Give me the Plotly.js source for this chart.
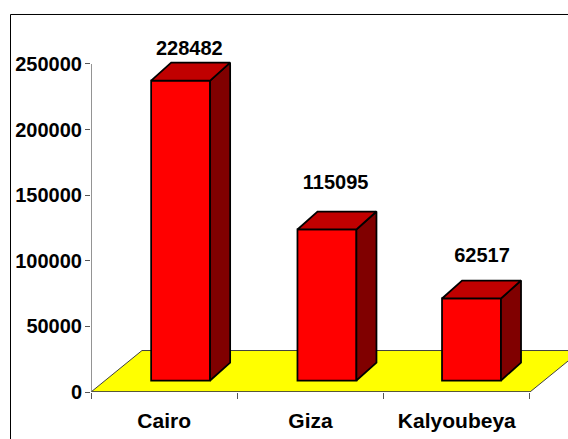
<!DOCTYPE html>
<html>
<head>
<meta charset="utf-8">
<script src="https://cdn.plot.ly/plotly-3.0.1.min.js"></script>
<style>html,body{margin:0;padding:0;background:#fff;overflow:hidden}</style>
</head>
<body>
<div id="chart" style="width:568px;height:439px"></div>
<script>
var categories = ['Cairo', 'Giza', 'Kalyoubeya'];
var values = [228482, 115095, 62517];
var yTicks = [0, 50000, 100000, 150000, 200000, 250000];
var labelLift = [24500, 36000, 33000];
var barNudge = [0, 0, -0.012];

var xPos = categories.map(function (c, i) { return i; });
var barLeft = -0.089, barWidth = 0.403;
var depthX = 0.137, depthY = 13700, liftY = 8750;
var floorDX = 0.3485, floorDY = 31600;
var yTop = 288040;
var fontFamily = 'Liberation Sans, Arial, sans-serif';

var traces = [{
  type: 'bar', x: xPos.map(function (p, i) { return p + barNudge[i]; }), y: values, base: liftY, width: barWidth, offset: barLeft,
  marker: {color: '#ff0000', line: {color: '#000', width: 1.75}},
  cliponaxis: false, hoverinfo: 'skip', showlegend: false
}];

function face(xs, ys, colour) {
  traces.push({
    type: 'scatter', mode: 'lines', x: xs, y: ys, fill: 'toself', fillcolor: colour,
    line: {color: '#000', width: 1.75, shape: 'linear'}, cliponaxis: false,
    hoverinfo: 'skip', showlegend: false
  });
}
values.forEach(function (v, i) {
  var l = i + barNudge[i] + barLeft, r = l + barWidth, t = v + liftY;
  face([r, r + depthX, r + depthX, r, r], [liftY, liftY + depthY, t + depthY, t, liftY], '#800000');
  face([l, l + depthX, r + depthX, r, l], [t, t + depthY, t + depthY, t, t], '#c00000');
});
traces.push({
  type: 'scatter', mode: 'text',
  x: xPos.map(function (p) { return p + 0.172; }),
  y: values.map(function (v, i) { return v + labelLift[i]; }),
  text: values.map(String), textposition: 'top center',
  textfont: {family: fontFamily, size: 20, color: '#000', weight: 'bold'},
  cliponaxis: false, hoverinfo: 'skip', showlegend: false
});

var layout = {
  width: 568, height: 439, autosize: false,
  margin: {l: 91, r: 0, t: 14, b: 46.5, pad: 0},
  paper_bgcolor: '#fff', plot_bgcolor: 'rgba(0,0,0,0)', showlegend: false,
  xaxis: {
    type: 'linear', range: [-0.5, 2.76], showgrid: false, zeroline: false, showline: false,
    tickmode: 'array', tickvals: xPos, ticktext: categories, ticks: '',
    ticklabelstandoff: 14,
    tickfont: {family: fontFamily, size: 21, color: '#000', weight: 'bold'},
    minor: {tickmode: 'array', tickvals: [-0.5, 0.5, 1.5, 2.5], ticks: 'outside', ticklen: 6, tickwidth: 1, tickcolor: '#555', showgrid: false}
  },
  yaxis: {
    range: [0, yTop], showgrid: false, zeroline: false, showline: false,
    tickmode: 'array', tickvals: yTicks, ticktext: yTicks.map(String),
    ticks: 'outside', ticklen: 5, tickwidth: 1, tickcolor: '#555',
    ticklabelstandoff: -1,
    tickfont: {family: fontFamily, size: 20, color: '#000', weight: 'bold'}
  },
  shapes: [
    {type: 'path', xref: 'x', yref: 'y', layer: 'below',
     path: 'M -0.5 0 L ' + (-0.5 + floorDX) + ' ' + floorDY + ' L ' + (2.5 + floorDX) + ' ' + floorDY + ' L 2.5 0 Z',
     fillcolor: '#ffff00', line: {color: '#404040', width: 1}},
    {type: 'line', xref: 'x', yref: 'y', x0: -0.5, x1: 2.5, y0: 0, y1: 0, line: {color: '#404040', width: 1.5}},
    {type: 'line', xref: 'x', yref: 'y', x0: -0.5, x1: -0.5, y0: 0, y1: 250000, line: {color: '#707070', width: 1.5}},
    {type: 'line', xref: 'paper', yref: 'paper', x0: -0.16876, x1: -0.16876, y0: -0.13, y1: 0.99868, line: {color: '#000', width: 1}},
    {type: 'line', xref: 'paper', yref: 'paper', x0: -0.16876, x1: 1, y0: 0.99868, y1: 0.99868, line: {color: '#000', width: 1}}
  ]
};
Plotly.newPlot('chart', traces, layout, {displayModeBar: false, staticPlot: true});
</script>
</body>
</html>
